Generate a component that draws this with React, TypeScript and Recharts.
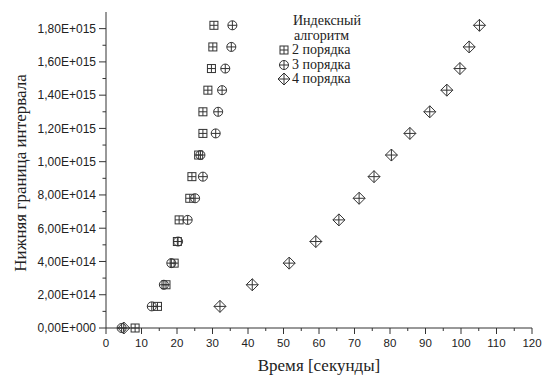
import { ScatterChart, Scatter, XAxis, YAxis, Legend, Label } from "recharts";

// lower bound of interval, same for all three series
const bounds = [
  0, 1.3e14, 2.6e14, 3.9e14, 5.2e14, 6.5e14, 7.8e14, 9.1e14, 1.04e15, 1.17e15, 1.3e15,
  1.43e15, 1.56e15, 1.69e15, 1.82e15,
];

// time, seconds
const order2 = [8.2, 14.5, 16.9, 19.2, 20.1, 20.6, 23.6, 24.2, 26.1, 27.3, 27.3, 28.7, 29.7, 30.1, 30.4];
const order3 = [4.4, 12.9, 16.3, 18.4, 20.3, 23.0, 25.1, 27.3, 26.6, 30.9, 31.6, 32.7, 33.6, 35.3, 35.6];
const order4 = [5.0, 32.1, 41.2, 51.6, 59.1, 65.6, 71.3, 75.5, 80.4, 85.6, 91.2, 96.0, 99.7, 102.3, 105.2];

const xTicks = Array.from({ length: 25 }, (_, i) => i * 5);
const yTicks = Array.from({ length: 19 }, (_, i) => i * 1e14);

const toPoints = (xs: number[]) => xs.map((t, i) => ({ t, b: bounds[i] }));

const INK = "#333";
const sans = "'Liberation Sans', Arial, sans-serif";
const serif = "'Liberation Serif', 'Times New Roman', serif";

function fmtExp(v: number) {
  if (v === 0) return "0,00E+000";
  const e = Math.floor(Math.log10(v) + 1e-9);
  const m = v / Math.pow(10, e);
  return m.toFixed(2).replace(".", ",") + "E+" + String(e).padStart(3, "0");
}

const SquareMark = ({ cx, cy }: any) => (
  <g stroke={INK} strokeWidth={1} fill="none">
    <rect x={cx - 4} y={cy - 4} width={8} height={8} />
    <line x1={cx - 4} y1={cy} x2={cx + 4} y2={cy} />
    <line x1={cx} y1={cy - 4} x2={cx} y2={cy + 4} />
  </g>
);

const CircleMark = ({ cx, cy }: any) => (
  <g stroke={INK} strokeWidth={1} fill="none">
    <circle cx={cx} cy={cy} r={4.5} />
    <line x1={cx - 4.5} y1={cy} x2={cx + 4.5} y2={cy} />
    <line x1={cx} y1={cy - 4.5} x2={cx} y2={cy + 4.5} />
  </g>
);

const DiamondMark = ({ cx, cy }: any) => (
  <g stroke={INK} strokeWidth={1} fill="none">
    <polygon points={`${cx},${cy - 6} ${cx + 6},${cy} ${cx},${cy + 6} ${cx - 6},${cy}`} />
    <line x1={cx - 6} y1={cy} x2={cx + 6} y2={cy} />
    <line x1={cx} y1={cy - 6} x2={cx} y2={cy + 6} />
  </g>
);

const marks: Record<string, any> = {
  "2 порядка": SquareMark,
  "3 порядка": CircleMark,
  "4 порядка": DiamondMark,
};

const YTick = ({ x, y, payload }: any) => {
  const major = Math.round(payload.value / 1e14) % 2 === 0;
  return (
    <g>
      <line x1={x} y1={y} x2={x - (major ? 7 : 3.5)} y2={y} stroke={INK} />
      {major && (
        <text x={x - 10} y={y} dy="0.36em" textAnchor="end" fontSize={12} fontFamily={sans} fill="#222">
          {fmtExp(payload.value)}
        </text>
      )}
    </g>
  );
};

const XTick = ({ x, y, payload }: any) => {
  const major = payload.value % 10 === 0;
  return (
    <g>
      <line x1={x} y1={y} x2={x} y2={y + (major ? 6 : 3)} stroke={INK} />
      {major && (
        <text x={x} y={y + 19} textAnchor="middle" fontSize={11.5} fontFamily={sans} fill="#222">
          {payload.value}
        </text>
      )}
    </g>
  );
};

const LegendBox = ({ payload }: any) => (
  <div style={{ fontFamily: serif, fontSize: 14, color: "#222", lineHeight: "14.5px" }}>
    <div style={{ paddingLeft: 16 }}>Индексный</div>
    <div style={{ paddingLeft: 17 }}>алгоритм</div>
    {(payload || []).map((p: any) => {
      const M = marks[p.value];
      return (
        <div key={p.value} style={{ display: "flex", alignItems: "center" }}>
          <svg width={14} height={14} style={{ marginRight: 1 }}>
            {M && <M cx={7} cy={7} />}
          </svg>
          <span>{p.value}</span>
        </div>
      );
    })}
  </div>
);

export default function App() {
  return (
    <div style={{ position: "absolute", left: 0, top: 0, background: "#fff" }}>
      <ScatterChart width={542} height={376} margin={{ top: 12, right: 10, bottom: 18, left: 0 }}>
        <XAxis
          type="number"
          dataKey="t"
          domain={[0, 120]}
          ticks={xTicks}
          interval={0}
          tickSize={0}
          tickMargin={0}
          tickLine={false}
          height={30}
          axisLine={{ stroke: INK }}
          tick={<XTick />}
        >
          <Label
            content={() => (
              <text x={319} y={371} textAnchor="middle" fontSize={17} fontFamily={serif} fill="#222">
                Время [секунды]
              </text>
            )}
          />
        </XAxis>
        <YAxis
          type="number"
          dataKey="b"
          domain={[0, 1.9e15]}
          ticks={yTicks}
          interval={0}
          tickSize={0}
          tickMargin={0}
          tickLine={false}
          width={106}
          axisLine={{ stroke: INK }}
          tick={<YTick />}
        >
          <Label
            content={() => (
              <text
                x={22}
                y={173}
                transform="rotate(-90 22 173)"
                textAnchor="middle"
                dominantBaseline="middle"
                fontSize={17}
                fontFamily={serif}
                fill="#222"
              >
                Нижняя граница интервала
              </text>
            )}
          />
        </YAxis>
        <Legend
          layout="vertical"
          verticalAlign="middle"
          align="center"
          wrapperStyle={{ left: 277, top: 14, width: 120 }}
          content={<LegendBox />}
        />
        <Scatter name="2 порядка" data={toPoints(order2)} shape={<SquareMark />} isAnimationActive={false} />
        <Scatter name="3 порядка" data={toPoints(order3)} shape={<CircleMark />} isAnimationActive={false} />
        <Scatter name="4 порядка" data={toPoints(order4)} shape={<DiamondMark />} isAnimationActive={false} />
      </ScatterChart>
    </div>
  );
}
